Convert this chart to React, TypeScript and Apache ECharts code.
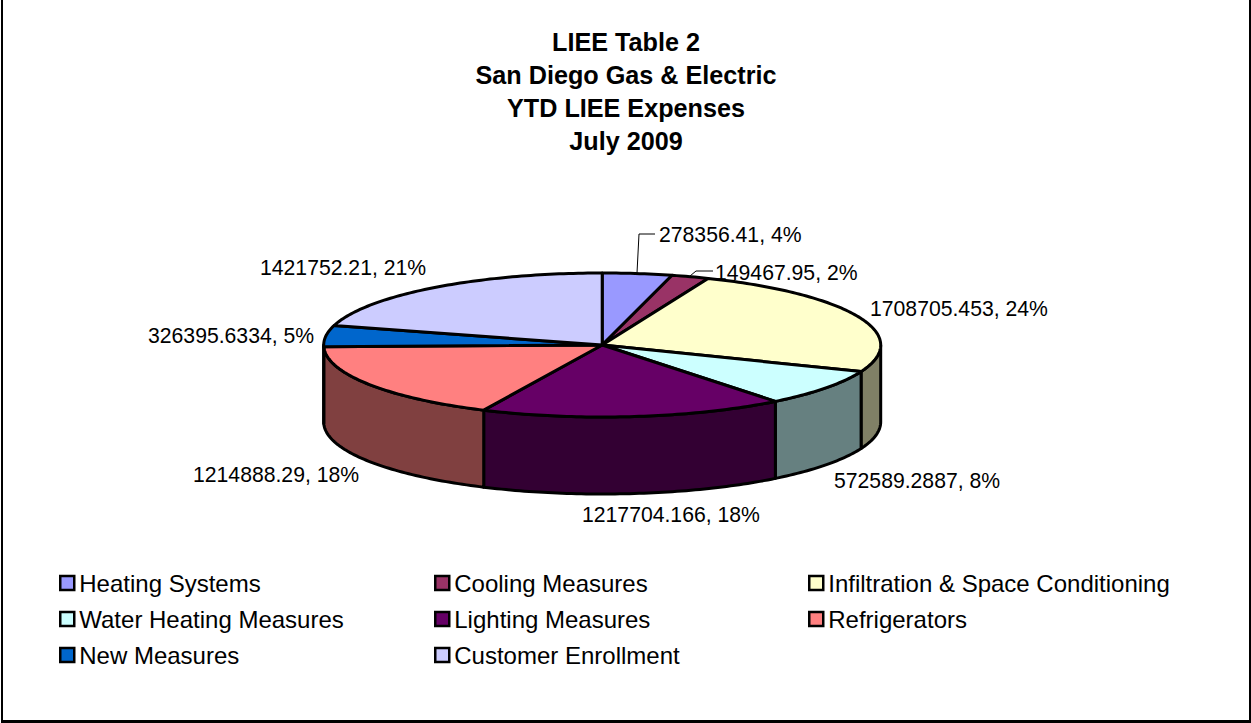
import React, { useEffect, useRef } from "react";
import * as echarts from "echarts";

const categories = [
  "Heating Systems",
  "Cooling Measures",
  "Infiltration & Space Conditioning",
  "Water Heating Measures",
  "Lighting Measures",
  "Refrigerators",
  "New Measures",
  "Customer Enrollment",
];
const values = [278356.41, 149467.95, 1708705.453, 572589.2887, 1217704.166, 1214888.29, 326395.6334, 1421752.21];
const percents = [4, 2, 24, 8, 18, 18, 5, 21];
const titleLines = ["LIEE Table 2", "San Diego Gas & Electric", "YTD LIEE Expenses", "July 2009"];

const topColors = ["#9999FF", "#993366", "#FFFFCC", "#CCFFFF", "#660066", "#FF8080", "#0066CC", "#CCCCFF"];
const wallColors = ["#4D4D80", "#4D1A33", "#808066", "#668080", "#330033", "#804040", "#003366", "#666680"];

// label anchor (left x, middle y) and optional leader polyline
const labelLayout: { x: number; y: number; leader?: number[][] }[] = [
  { x: 659, y: 234, leader: [[637, 273], [639, 234], [655, 234]] },
  { x: 715, y: 272, leader: [[690, 276], [696, 271], [713, 271]] },
  { x: 870, y: 308 },
  { x: 834, y: 480 },
  { x: 582, y: 514 },
  { x: 193, y: 474 },
  { x: 148, y: 335 },
  { x: 260, y: 267 },
];

const CX = 602.2;
const CY = 345;
const RX = 278.5;
const RY = 72;
const DEPTH = 77;
const LINE = 3;
const FONT = "Liberation Sans, Arial, sans-serif";

const total = values.reduce((a, b) => a + b, 0);
const point = (deg: number, dy = 0) => {
  const r = (deg * Math.PI) / 180;
  return [CX + RX * Math.sin(r), CY - RY * Math.cos(r) + dy];
};
const arc = (from: number, to: number, dy = 0) => {
  const pts: number[][] = [];
  const steps = Math.max(2, Math.ceil(Math.abs(to - from)));
  for (let i = 0; i <= steps; i++) pts.push(point(from + ((to - from) * i) / steps, dy));
  return pts;
};

function makeRenderItem(index: number) {
  const before = values.slice(0, index).reduce((a, b) => a + b, 0);
  return (_params: any, api: any) => {
    const v = api.value(0);
    const start = (before / total) * 360;
    const end = ((before + v) / total) * 360;
    const children: any[] = [];
    const wallFrom = Math.max(start, 90);
    const wallTo = Math.min(end, 270);
    if (wallFrom < wallTo) {
      children.push({
        type: "polygon",
        shape: { points: [...arc(wallFrom, wallTo), ...arc(wallTo, wallFrom, DEPTH)] },
        style: { fill: wallColors[index], stroke: "#000", lineWidth: LINE, lineJoin: "round" },
      });
    }
    children.push({
      type: "polygon",
      shape: { points: [[CX, CY], ...arc(start, end)] },
      style: { fill: topColors[index], stroke: "#000", lineWidth: LINE, lineJoin: "round" },
    });
    const lab = labelLayout[index];
    if (lab.leader) {
      children.push({
        type: "polyline",
        shape: { points: lab.leader },
        style: { fill: "none", stroke: "#000", lineWidth: 1 },
      });
    }
    children.push({
      type: "text",
      style: {
        x: lab.x,
        y: lab.y,
        text: `${v}, ${percents[index]}%`,
        fill: "#000",
        font: `21.2px ${FONT}`,
        textAlign: "left",
        textVerticalAlign: "middle",
      },
    });
    return { type: "group", children };
  };
}

const legendColumns = [
  { left: 59, names: [categories[0], categories[3], categories[6]] },
  { left: 434, names: [categories[1], categories[4], categories[7]] },
  { left: 808, names: [categories[2], categories[5]] },
];

export default function App() {
  const ref = useRef<HTMLDivElement>(null);
  useEffect(() => {
    if (!ref.current) return;
    const chart = echarts.init(ref.current, undefined, { renderer: "svg" });
    chart.setOption({
      animation: false,
      backgroundColor: "#fff",
      title: {
        text: titleLines.join("\n"),
        left: 621,
        top: 20,
        textAlign: "center",
        textStyle: { fontFamily: FONT, fontSize: 25.2, fontWeight: "bold", color: "#000", lineHeight: 33 },
      },
      legend: legendColumns.map((c) => ({
        data: c.names,
        left: c.left,
        top: 571,
        orient: "vertical",
        icon: "rect",
        itemWidth: 14,
        itemHeight: 14,
        itemGap: 12,
        padding: 0,
        selectedMode: false,
        itemStyle: { borderColor: "#000", borderWidth: 2.5 },
        textStyle: { fontFamily: FONT, fontSize: 24, color: "#000", padding: [0, 0, 0, 0], height: 23, lineHeight: 23 },
      })),
      graphic: [
        { type: "rect", shape: { x: 1, y: 0, width: 2, height: 722 }, style: { fill: "#000" }, silent: true },
        { type: "rect", shape: { x: 1, y: 720, width: 1250, height: 3 }, style: { fill: "#000" }, silent: true },
        { type: "rect", shape: { x: 1249, y: 0, width: 2, height: 723 }, style: { fill: "#000" }, silent: true },
      ],
      series: categories.map((name, i) => ({
        type: "custom",
        name,
        coordinateSystem: "none",
        silent: true,
        itemStyle: { color: topColors[i] },
        renderItem: makeRenderItem(i),
        data: [[values[i]]],
      })),
    });
    return () => chart.dispose();
  }, []);
  return <div ref={ref} style={{ position: "absolute", left: 0, top: 0, width: 1251, height: 723 }} />;
}
